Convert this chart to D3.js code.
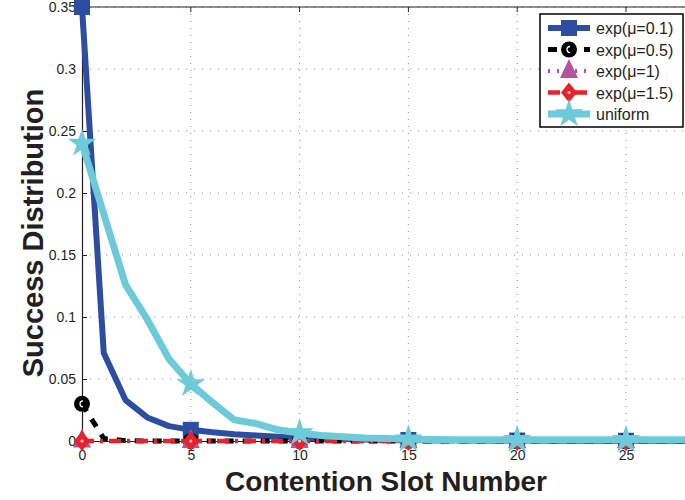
<!DOCTYPE html>
<html>
<head>
<meta charset="utf-8">
<script src="https://cdn.jsdelivr.net/npm/d3@7"></script>
<style>
  html, body { margin: 0; padding: 0; background: #fff; }
  svg { display: block; }
  text { font-family: "Liberation Sans", Arial, Helvetica, sans-serif; fill: #231f20; }
</style>
</head>
<body>
<svg id="chart" width="685" height="500"></svg>
<script>
// ---- data ----
const slots = d3.range(0, 31);
const expMu01 = [0.35, 0.071, 0.033, 0.019, 0.012, 0.009, 0.007, 0.0055, 0.0045, 0.0035, 0.0025, 0.002, 0.0016, 0.0013, 0.001, 0.0008, 0.0007, 0.0006, 0.0005, 0.0005, 0.0004, 0.0004, 0.0003, 0.0003, 0.0003, 0.0002, 0.0002, 0.0002, 0.0002, 0.0001, 0.0001];
const expMu05 = [0.030, 0.002, 0.0003, 0, 0, 0, 0, 0, 0, 0, 0, 0, 0, 0, 0, 0, 0, 0, 0, 0, 0, 0, 0, 0, 0, 0, 0, 0, 0, 0, 0];
const expMu1  = [0.0005, 0, 0, 0, 0, 0, 0, 0, 0, 0, 0, 0, 0, 0, 0, 0, 0, 0, 0, 0, 0, 0, 0, 0, 0, 0, 0, 0, 0, 0, 0];
const expMu15 = [0, 0, 0, 0, 0, 0, 0, 0, 0, 0, 0, 0, 0, 0, 0, 0, 0, 0, 0, 0, 0, 0, 0, 0, 0, 0, 0, 0, 0, 0, 0];
const uniform = [0.240, 0.183, 0.126, 0.098, 0.066, 0.046, 0.031, 0.017, 0.014, 0.009, 0.0065, 0.0045, 0.0035, 0.0025, 0.002, 0.0015, 0.0012, 0.001, 0.001, 0.001, 0.001, 0.001, 0.001, 0.001, 0.001, 0.001, 0.001, 0.001, 0.001, 0.001, 0.001];
const seriesNames = ["exp(\u03bc=0.1)", "exp(\u03bc=0.5)", "exp(\u03bc=1)", "exp(\u03bc=1.5)", "uniform"];
const xTicks = [0, 5, 10, 15, 20, 25];
const yTicks = [0, 0.05, 0.1, 0.15, 0.2, 0.25, 0.3, 0.35];
const yTickLabels = ["0", "0.05", "0.1", "0.15", "0.2", "0.25", "0.3", "0.35"];
const xLabel = "Contention Slot Number";
const yLabel = "Success Distribution";

// ---- styles ----
const styles = [
  { color: "#2d4ea0", width: 6, dash: null, marker: "square" },
  { color: "#000000", width: 5, dash: "9,9", marker: "circle" },
  { color: "#b651a0", width: 4, dash: "2,7", marker: "triangle" },
  { color: "#e8222a", width: 4.5, dash: "12,6,3,6", marker: "diamond" },
  { color: "#6ccad9", width: 7, dash: null, marker: "star" }
];
const data = [expMu01, expMu05, expMu1, expMu15, uniform];

const svg = d3.select("#chart");
const x = d3.scaleLinear().domain([0, 30]).range([82, 82 + 30 * 21.76]);
const y = d3.scaleLinear().domain([0, 0.35]).range([441, 7]);
const x0 = 82, x1 = x(30), yTop = 7, yBot = 441;

// grid
const grid = svg.append("g");
xTicks.filter(t => t > 0).forEach(t => {
  grid.append("line").attr("x1", x(t)).attr("x2", x(t)).attr("y1", yTop).attr("y2", yBot)
    .attr("stroke", "#8a8a8a").attr("stroke-width", 1).attr("stroke-dasharray", "1,6");
});
yTicks.filter(t => t > 0).forEach(t => {
  grid.append("line").attr("x1", x0).attr("x2", x1).attr("y1", y(t)).attr("y2", y(t))
    .attr("stroke", "#8a8a8a").attr("stroke-width", 1).attr("stroke-dasharray", "1,7");
});

// axes
const xAxis = d3.axisBottom(x).tickValues(xTicks).tickSize(-5).tickPadding(9).tickFormat(d3.format("d"));
const gx = svg.append("g").attr("transform", `translate(0,${yBot})`).call(xAxis);
const yAxis = d3.axisLeft(y).tickValues(yTicks).tickSize(-5).tickPadding(6).tickFormat((d, i) => yTickLabels[i]);
const gy = svg.append("g").attr("transform", `translate(${x0},0)`).call(yAxis);
[gx, gy].forEach(g => {
  g.select(".domain").attr("stroke", "#231f20").attr("stroke-width", 1.2);
  g.selectAll(".tick line").attr("stroke", "#231f20");
  g.selectAll(".tick text").attr("font-size", 14).attr("fill", "#231f20")
    .attr("font-family", "Liberation Sans, Arial, sans-serif");
});
// top border + ticks
svg.append("line").attr("x1", x0).attr("x2", x1).attr("y1", yTop).attr("y2", yTop)
  .attr("stroke", "#231f20").attr("stroke-width", 1.2);
xTicks.forEach(t => svg.append("line").attr("x1", x(t)).attr("x2", x(t)).attr("y1", yTop).attr("y2", yTop + 5).attr("stroke", "#231f20"));

// markers
function starPath(R) {
  const r = R * 0.382;
  let p = "";
  for (let i = 0; i < 10; i++) {
    const a = -Math.PI / 2 + i * Math.PI / 5;
    const rr = i % 2 === 0 ? R : r;
    p += (i === 0 ? "M" : "L") + (rr * Math.cos(a)).toFixed(2) + "," + (rr * Math.sin(a)).toFixed(2);
  }
  return p + "Z";
}
function drawMarker(g, type, color, cx, cy) {
  const m = g.append("g").attr("transform", `translate(${cx},${cy})`);
  if (type === "square") m.append("rect").attr("x", -8).attr("y", -8).attr("width", 16).attr("height", 16).attr("fill", color);
  if (type === "circle") {
    m.append("circle").attr("r", 8).attr("fill", color);
    m.append("path").attr("d", "M1,-3 A3,3 0 1 0 1,3").attr("fill", "none").attr("stroke", "#fff").attr("stroke-width", 1.3);
  }
  if (type === "triangle") m.append("path").attr("d", "M0,-12 L9,7 L-9,7 Z").attr("fill", color);
  if (type === "diamond") {
    m.append("path").attr("d", "M0,-10 L8,0 L0,10 L-8,0 Z").attr("fill", color);
    m.append("circle").attr("r", 1.6).attr("fill", "#f4c6d0");
  }
  if (type === "star") m.append("path").attr("d", starPath(15)).attr("fill", color);
}

const plot = svg.append("g");
const line = d3.line().x((d, i) => x(slots[i])).y(d => y(d));
data.forEach((vals, si) => {
  const s = styles[si];
  const g = plot.append("g");
  g.append("path").datum(vals).attr("d", line).attr("fill", "none")
    .attr("stroke", s.color).attr("stroke-width", s.width).attr("stroke-linejoin", "round")
    .attr("stroke-dasharray", s.dash);
  vals.forEach((v, i) => {
    if (slots[i] % 5 === 0) drawMarker(g, s.marker, s.color, x(slots[i]), y(v));
  });
});

// axis labels
svg.append("text").attr("x", 386).attr("y", 491).attr("text-anchor", "middle")
  .attr("font-size", 28).attr("font-weight", "bold").text(xLabel);
svg.append("text").attr("transform", "translate(43,233) rotate(-90)").attr("text-anchor", "middle")
  .attr("font-size", 29).attr("font-weight", "bold").text(yLabel);

// legend
const lg = svg.append("g");
lg.append("rect").attr("x", 540).attr("y", 14).attr("width", 143).attr("height", 113)
  .attr("fill", "#fff").attr("stroke", "#000").attr("stroke-width", 1.5);
seriesNames.forEach((name, i) => {
  const s = styles[i];
  const cy = 28 + i * 21.5;
  lg.append("line").attr("x1", 548).attr("x2", 590).attr("y1", cy).attr("y2", cy)
    .attr("stroke", s.color).attr("stroke-width", s.width).attr("stroke-dasharray", s.dash);
  drawMarker(lg, s.marker, s.color, 569, cy);
  lg.append("text").attr("x", 596).attr("y", cy + 6).attr("font-size", 16).text(name);
});
</script>
</body>
</html>
